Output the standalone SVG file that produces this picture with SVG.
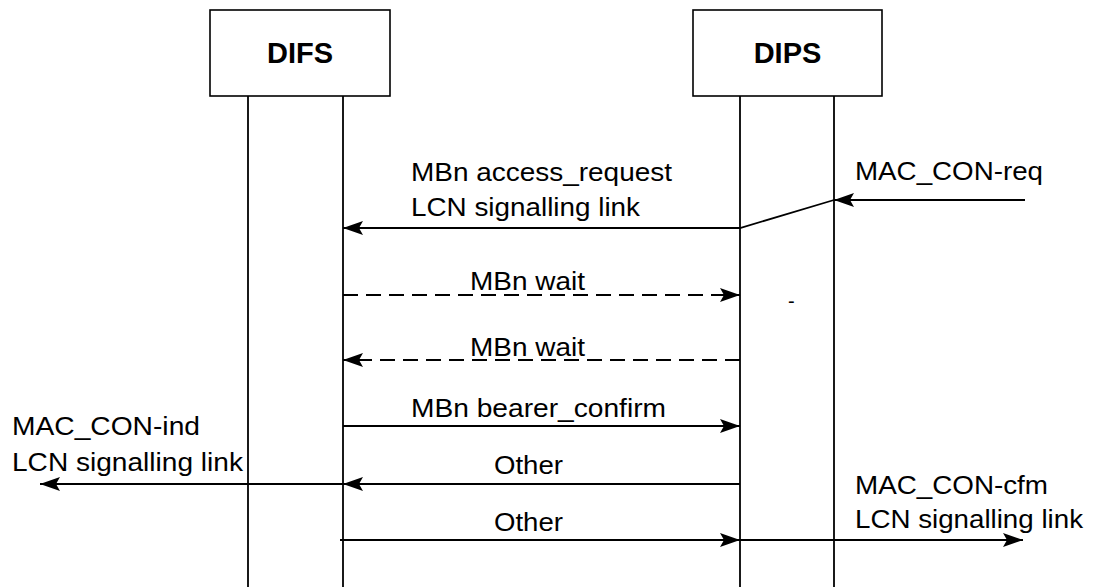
<svg xmlns="http://www.w3.org/2000/svg" width="1098" height="587" viewBox="0 0 1098 587">
<style>
.box{fill:#fff;stroke:#000;stroke-width:1.6}
.life{stroke:#000;stroke-width:1.8;fill:none}
.msg{stroke:#000;stroke-width:1.8;fill:none;marker-end:url(#ah)}
.dash{stroke-dasharray:15 8}
.t{font-family:"Liberation Sans",Arial,sans-serif;font-size:26px;fill:#000}
.h{font-family:"Liberation Sans",Arial,sans-serif;font-size:29px;font-weight:bold;fill:#000}
</style>
<defs>
<marker id="ah" markerUnits="userSpaceOnUse" viewBox="0 0 20 14" refX="20" refY="7" markerWidth="20" markerHeight="14" orient="auto">
<path d="M0,0 L20,7 L0,14 L4,7 z" fill="#000"/>
</marker>
</defs>
<rect width="1098" height="587" fill="#fff"/>
<g id="DIFS">
<rect class="box" x="210" y="10" width="180" height="86"/>
<text class="h" x="300" y="63" text-anchor="middle">DIFS</text>
<line class="life" x1="248" y1="96" x2="248" y2="587"/>
<line class="life" x1="343" y1="96" x2="343" y2="587"/>
</g>
<g id="DIPS">
<rect class="box" x="693" y="10" width="189" height="86"/>
<text class="h" x="787.5" y="63" text-anchor="middle">DIPS</text>
<line class="life" x1="740" y1="96" x2="740" y2="587"/>
<line class="life" x1="834" y1="96" x2="834" y2="587"/>
</g>
<g id="connectors">
<line class="msg" x1="1025" y1="200" x2="834" y2="200"/>
<polyline class="msg" points="834,200 740,228 343,228"/>
<line class="msg dash" x1="343" y1="295" x2="740" y2="295"/>
<line class="msg dash" x1="740" y1="360" x2="343" y2="360"/>
<line class="msg" x1="343" y1="426" x2="740" y2="426"/>
<line class="msg" x1="740" y1="484" x2="343" y2="484"/>
<line class="msg" x1="343" y1="484" x2="40" y2="484"/>
<line class="msg" x1="340" y1="540" x2="740" y2="540"/>
<line class="msg" x1="740" y1="540" x2="1023" y2="540"/>
</g>
<g id="labels">
<text class="t" x="411" y="181" textLength="261" lengthAdjust="spacingAndGlyphs">MBn access_request</text>
<text class="t" x="411" y="216" textLength="229" lengthAdjust="spacingAndGlyphs">LCN signalling link</text>
<text class="t" x="855" y="180" textLength="188" lengthAdjust="spacingAndGlyphs">MAC_CON-req</text>
<text class="t" x="470" y="290" textLength="115" lengthAdjust="spacingAndGlyphs">MBn wait</text>
<text class="t" x="470" y="356" textLength="115" lengthAdjust="spacingAndGlyphs">MBn wait</text>
<text class="t" x="788" y="308" style="font-size:20px">-</text>
<text class="t" x="411" y="417" textLength="255" lengthAdjust="spacingAndGlyphs">MBn bearer_confirm</text>
<text class="t" x="12" y="435" textLength="188" lengthAdjust="spacingAndGlyphs">MAC_CON-ind</text>
<text class="t" x="12" y="471" textLength="231" lengthAdjust="spacingAndGlyphs">LCN signalling link</text>
<text class="t" x="494" y="474" textLength="69" lengthAdjust="spacingAndGlyphs">Other</text>
<text class="t" x="494" y="531" textLength="69" lengthAdjust="spacingAndGlyphs">Other</text>
<text class="t" x="855" y="494" textLength="193" lengthAdjust="spacingAndGlyphs">MAC_CON-cfm</text>
<text class="t" x="855" y="528" textLength="228" lengthAdjust="spacingAndGlyphs">LCN signalling link</text>
</g>
</svg>
